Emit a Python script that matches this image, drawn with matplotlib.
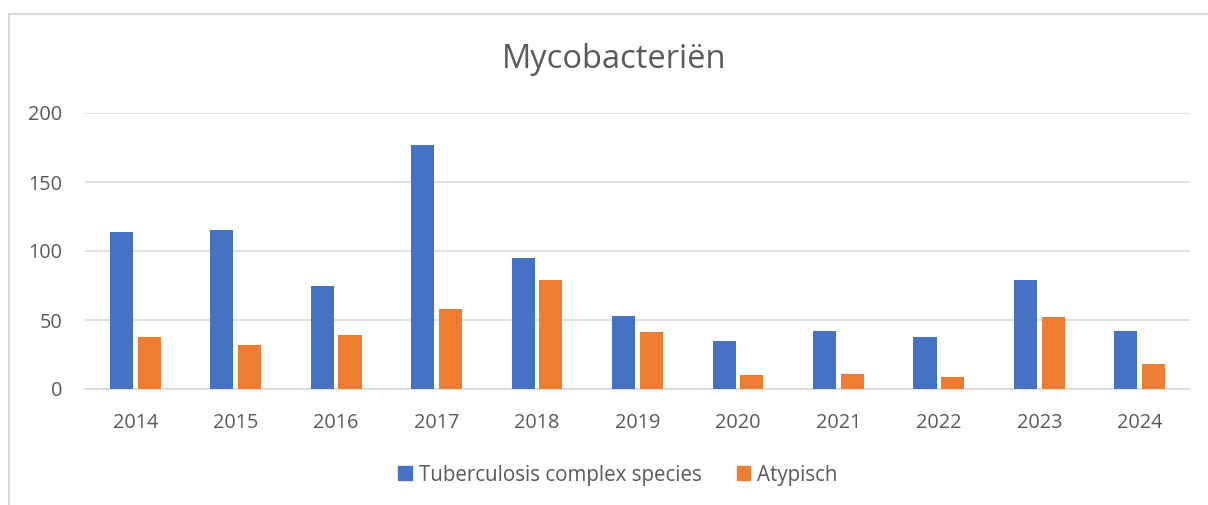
import matplotlib
matplotlib.use("Agg")
import matplotlib.pyplot as plt
import numpy as np
from matplotlib.patches import Rectangle
from matplotlib.lines import Line2D

years = ["2014", "2015", "2016", "2017", "2018", "2019", "2020", "2021", "2022", "2023", "2024"]
tuberculosis = [114, 115, 75, 177, 95, 53, 35, 42, 38, 79, 42]
atypisch = [38, 32, 39, 58, 79, 41, 10, 11, 9, 52, 18]
series_names = ["Tuberculosis complex species", "Atypisch"]
title = "Mycobacteriën"

BLUE = "#4472C4"
ORANGE = "#ED7D31"
GRID = "#D9D9D9"
TEXT = "#595959"

plt.rcParams['font.family'] = ['Open Sans', 'DejaVu Sans']

W, H = 1208, 505
fig = plt.figure(figsize=(W / 100, H / 100), dpi=100)
ax = fig.add_axes([85 / W, 1 - 389 / H, (1190 - 85) / W, (389 - 113) / H])

x = np.arange(len(years))
bw = 0.23
off = 0.138
ax.bar(x - off, tuberculosis, width=bw, color=BLUE, zorder=3)
ax.bar(x + off, atypisch, width=bw, color=ORANGE, zorder=3)

ax.set_xlim(-0.5, len(years) - 0.5)
ax.set_ylim(0, 200)
ax.set_yticks([0, 50, 100, 150, 200])
ax.set_xticks(x)
ax.set_xticklabels(years)
ax.yaxis.grid(True, color=GRID, linewidth=1.1, zorder=0)
ax.set_axisbelow(True)
for s in ["top", "right", "left"]:
    ax.spines[s].set_visible(False)
ax.spines["bottom"].set_color(GRID)
ax.spines["bottom"].set_linewidth(1.1)
ax.tick_params(axis="both", length=0, labelsize=14.3, colors=TEXT)
ax.tick_params(axis="y", pad=16.5)
ax.tick_params(axis="x", pad=17)

fig.text(614 / W, 1 - 68 / H, title, ha="center", va="baseline", fontsize=23.5, color=TEXT)

handles = [Rectangle((0, 0), 1, 1, color=BLUE), Rectangle((0, 0), 1, 1, color=ORANGE)]
leg = fig.legend(handles, series_names, loc="center", bbox_to_anchor=(618 / W, 1 - 475 / H),
                 ncol=2, frameon=False, fontsize=14.8, handlelength=0.65, handleheight=0.65,
                 handletextpad=0.35, columnspacing=1.7, borderpad=0)
for t in leg.get_texts():
    t.set_color(TEXT)

# chart border (partially visible)
fig.add_artist(Line2D([9 / W, 9 / W], [0, 1 - 14 / H], transform=fig.transFigure, color=GRID, linewidth=1.5))
fig.add_artist(Line2D([9 / W, 1], [1 - 14 / H, 1 - 14 / H], transform=fig.transFigure, color=GRID, linewidth=1.5))

fig.savefig("out.png", dpi=100)
